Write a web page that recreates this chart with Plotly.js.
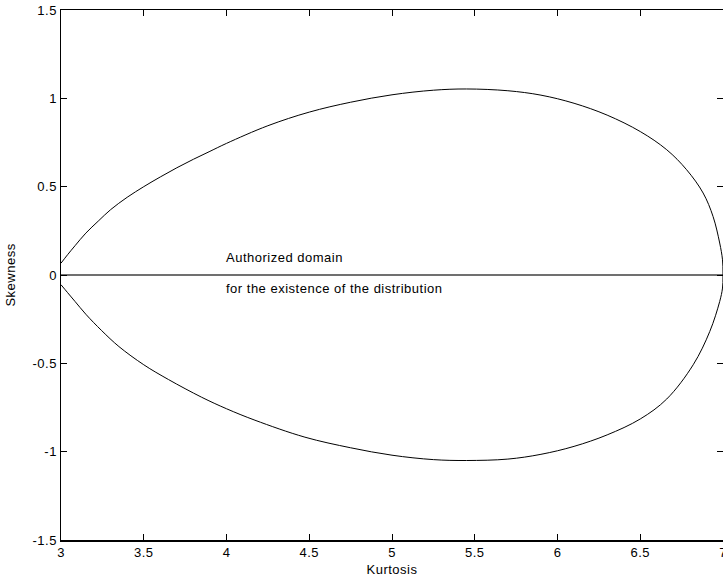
<!DOCTYPE html>
<html>
<head>
<meta charset="utf-8">
<script src="https://cdn.plot.ly/plotly-3.0.1.min.js"></script>
<style>
html, body { margin: 0; padding: 0; overflow: hidden; background: #fff; }
#chart { width: 725px; height: 580px; }
text { letter-spacing: 0.5px; }
</style>
</head>
<body>
<div id="chart"></div>
<script>
// Upper boundary of the authorized domain (kurtosis, skewness)
const upperKurtosis = [3.0, 3.04, 3.085, 3.15, 3.225, 3.3, 3.4, 3.5, 3.6, 3.7, 3.8, 3.9, 4.0, 4.25, 4.5, 4.75, 5.0, 5.25, 5.45, 5.7, 5.9, 6.1, 6.3, 6.5, 6.66, 6.78, 6.88, 6.94, 6.98, 6.997, 7.0];
const upperSkewness = [0.067, 0.115, 0.166, 0.237, 0.305, 0.37, 0.44, 0.50, 0.555, 0.607, 0.655, 0.70, 0.745, 0.845, 0.922, 0.978, 1.02, 1.046, 1.053, 1.043, 1.018, 0.972, 0.905, 0.812, 0.709, 0.596, 0.464, 0.331, 0.181, 0.086, 0.0];
// Lower boundary
const lowerKurtosis = [3.0, 3.04, 3.085, 3.15, 3.246, 3.35, 3.5, 3.65, 3.85, 4.0, 4.172, 4.474, 4.75, 5.0, 5.25, 5.45, 5.7, 5.9, 6.1, 6.3, 6.5, 6.66, 6.82, 6.92, 6.98, 6.997, 7.0];
const lowerSkewness = [-0.055, -0.1, -0.15, -0.222, -0.315, -0.405, -0.508, -0.592, -0.692, -0.757, -0.822, -0.918, -0.978, -1.02, -1.045, -1.05, -1.042, -1.015, -0.97, -0.905, -0.815, -0.702, -0.508, -0.32, -0.15, -0.074, 0.0];

const xTickVals = [3, 3.5, 4, 4.5, 5, 5.5, 6, 6.5, 7];
const xTickText = ["3", "3.5", "4", "4.5", "5", "5.5", "6", "6.5", "7"];
const yTickVals = [-1.5, -1, -0.5, 0, 0.5, 1, 1.5];
const yTickText = ["-1.5", "-1", "-0.5", "0", "0.5", "1", "1.5"];

const labelLines = ["Authorized domain", "for the existence of the distribution"];
const labelX = [4, 4];
const labelY = [0.1, -0.075];

const font = { family: "Liberation Sans, Arial, sans-serif", size: 13, color: "#000" };

const traces = [
  { x: upperKurtosis, y: upperSkewness, mode: "lines", line: { color: "#000", width: 1, shape: "spline", smoothing: 1 }, hoverinfo: "skip" },
  { x: lowerKurtosis, y: lowerSkewness, mode: "lines", line: { color: "#000", width: 1, shape: "spline", smoothing: 1 }, hoverinfo: "skip" }
];

const layout = {
  width: 725, height: 580,
  margin: { l: 61, r: 2, t: 10, b: 40, pad: 0 },
  paper_bgcolor: "#fff", plot_bgcolor: "#fff",
  showlegend: false,
  font: font,
  xaxis: {
    range: [3, 7.00001], tickvals: xTickVals, ticktext: xTickText,
    ticklabeloverflow: "allow",
    showgrid: false, zeroline: false,
    showline: true, linecolor: "#000", linewidth: 1.5, mirror: "ticks",
    ticks: "inside", ticklen: 6, tickcolor: "#000", tickwidth: 1,
    tickfont: font,
    title: { text: "Kurtosis", font: font, standoff: 6 }
  },
  yaxis: {
    range: [-1.5, 1.5], tickvals: yTickVals, ticktext: yTickText,
    showgrid: false,
    zeroline: true, zerolinecolor: "#707070", zerolinewidth: 1.5,
    showline: true, linecolor: "#000", linewidth: 1.5, mirror: "ticks",
    ticks: "inside", ticklen: 6, tickcolor: "#000", tickwidth: 1,
    tickfont: font,
    title: { text: "Skewness", font: font, standoff: 14 }
  },
  annotations: labelLines.map((t, i) => ({
    x: labelX[i], y: labelY[i], xref: "x", yref: "y",
    text: t, showarrow: false, xanchor: "left", yanchor: "middle",
    xshift: -3, font: font
  }))
};

Plotly.newPlot("chart", traces, layout, { staticPlot: true, displayModeBar: false });
</script>
</body>
</html>
